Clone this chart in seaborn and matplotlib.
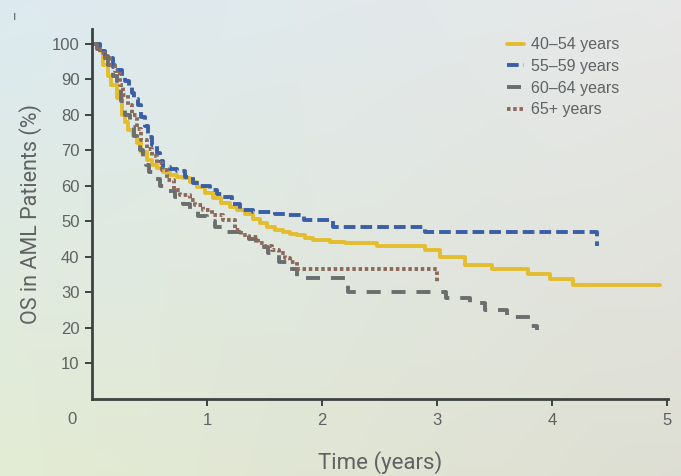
import numpy as np
import pandas as pd
import matplotlib
matplotlib.use("Agg")
import matplotlib.pyplot as plt
import seaborn as sns

# Kaplan-Meier style step curves (years, OS %)
t_40_54 = [0, 0.07, 0.10, 0.14, 0.17, 0.22, 0.26, 0.29, 0.31, 0.36, 0.39, 0.43,
           0.48, 0.52, 0.57, 0.62, 0.68, 0.74, 0.79, 0.85, 0.91, 0.98, 1.05, 1.12,
           1.20, 1.26, 1.33, 1.40, 1.46, 1.52, 1.59, 1.66, 1.72, 1.78, 1.85, 1.92,
           2.07, 2.20, 2.48, 2.90, 3.03, 3.24, 3.48, 3.79, 3.98, 4.18, 4.94]
s_40_54 = [100, 98, 94, 91, 88.5, 84.8, 80, 78, 75.8, 74, 72, 69.5,
           67.3, 66, 65, 64, 63, 62.6, 62.3, 61, 59.7, 58, 56.6, 55.3,
           54, 53.2, 52.2, 50.8, 49.6, 48.5, 47.7, 47, 46.5, 46.2, 45.4, 44.8,
           44.3, 44, 43, 42, 40, 37.7, 36.6, 35.2, 33.8, 32, 32]

t_55_59 = [0, 0.07, 0.11, 0.18, 0.23, 0.26, 0.29, 0.32, 0.35, 0.37, 0.40, 0.43,
           0.46, 0.49, 0.52, 0.57, 0.59, 0.62, 0.68, 0.74, 0.81, 0.88, 0.94, 1.03,
           1.09, 1.14, 1.22, 1.29, 1.40, 1.49, 1.59, 1.70, 1.84, 1.96, 2.10, 2.90, 4.39]
s_55_59 = [100, 98, 96, 93.5, 92.7, 91, 89.6, 88, 86.2, 84.5, 82.8, 79.5,
           77, 73.8, 71.5, 69.3, 67, 65.4, 64.8, 64.2, 62.5, 60.8, 60, 58.9,
           57.8, 57, 55, 53.2, 52.7, 52.7, 52.2, 51.8, 50.4, 50.4, 48.5, 47, 43]

t_60_64 = [0, 0.04, 0.10, 0.14, 0.18, 0.22, 0.25, 0.29, 0.33, 0.37, 0.39, 0.42,
           0.44, 0.47, 0.50, 0.55, 0.59, 0.65, 0.72, 0.79, 0.85, 0.92, 1.00, 1.07,
           1.16, 1.29, 1.37, 1.43, 1.53, 1.63, 1.72, 1.78, 2.23, 3.08, 3.29, 3.42,
           3.61, 3.81, 3.87]
s_60_64 = [100, 98.5, 96.5, 94, 91, 88, 84, 80, 76.6, 74, 72, 70,
           68, 66, 64, 62, 60, 58.5, 57, 55, 53, 51.5, 50.2, 48.5,
           47, 46, 45, 42.8, 41, 38.6, 36.5, 34, 30, 28.5, 27, 25,
           23, 20.5, 19.5]

t_65 = [0, 0.03, 0.07, 0.11, 0.16, 0.20, 0.24, 0.27, 0.31, 0.35, 0.39, 0.43,
        0.48, 0.52, 0.57, 0.61, 0.65, 0.71, 0.77, 0.85, 0.90, 0.97, 1.04, 1.14,
        1.24, 1.30, 1.37, 1.44, 1.50, 1.57, 1.63, 1.68, 1.72, 1.78, 3.00]
s_65 = [100, 99, 97.5, 96, 94, 92.4, 88.5, 85.6, 82.8, 80, 76, 73,
        70.5, 68.5, 66.5, 64.5, 61.7, 58.9, 57.5, 56, 54.5, 53.2, 51.8, 50.4,
        47.6, 46.2, 45.6, 44, 43, 42, 41, 39.7, 38.5, 36.6, 33]

groups = ["40–54 years", "55–59 years", "60–64 years", "65+ years"]
y_ticks = [10, 20, 30, 40, 50, 60, 70, 80, 90, 100]
x_ticks = [1, 2, 3, 4, 5]

sns.set_style("ticks")
plt.rcParams["font.family"] = ["Liberation Sans", "DejaVu Sans"]
text_col = "#5f6262"
axis_col = "#3d4242"

fig = plt.figure(figsize=(6.81, 4.76), dpi=100)

# photo-like gradient background
bg = fig.add_axes([0, 0, 1, 1], zorder=-5)
tl = np.array([0.865, 0.918, 0.942])
tr = np.array([0.905, 0.910, 0.905])
bl = np.array([0.890, 0.925, 0.830])
br = np.array([0.870, 0.872, 0.830])
u = np.linspace(0, 1, 200)[None, :, None]
v = np.linspace(0, 1, 140)[:, None, None]
grad = (1 - u) * (1 - v) * tl + u * (1 - v) * tr + (1 - u) * v * bl + u * v * br
bg.imshow(grad, aspect="auto", extent=[0, 1, 0, 1])
bg.axis("off")

ax = fig.add_axes([0.135, 0.162, 0.846, 0.777])
ax.set_facecolor("none")

series = [
    (t_40_54, s_40_54, groups[0], "#e4bd2e", "-"),
    (t_55_59, s_55_59, groups[1], "#3b5fa6", (0, (3.0, 1.3))),
    (t_60_64, s_60_64, groups[2], "#6a6e6e", (0, (3.6, 2.8))),
    (t_65, s_65, groups[3], "#8b6a5c", (0, (0.9, 0.7))),
]
for t, s, name, col, ls in series:
    df = pd.DataFrame({"time": t, "os": s})
    sns.lineplot(data=df, x="time", y="os", ax=ax, estimator=None,
                 drawstyle="steps-post", color=col, linestyle=ls,
                 linewidth=2.8, label=name)

ax.set_xlim(0, 5.01)
ax.set_ylim(0, 104.2)
ax.set_xticks(x_ticks)
ax.set_yticks(y_ticks)
ax.tick_params(axis="both", direction="out", length=5, width=1.4,
               color=axis_col, labelcolor=text_col, labelsize=12, pad=4)
ax.tick_params(axis="x", pad=5)
for sp in ["top", "right"]:
    ax.spines[sp].set_visible(False)
for sp in ["left", "bottom"]:
    ax.spines[sp].set_color(axis_col)
    ax.spines[sp].set_linewidth(2)

ax.text(-0.174, -5.9, "0", color=text_col, fontsize=12, ha="center", va="center",
        clip_on=False)
ax.set_xlabel("Time (years)", color=text_col, fontsize=16,
              family=["Roboto", "DejaVu Sans"], labelpad=17)
ax.set_ylabel("OS in AML Patients (%)", color=text_col, fontsize=15.5,
              family=["Roboto", "DejaVu Sans"], labelpad=7)

leg = ax.legend(loc="upper left", bbox_to_anchor=(0.709, 0.995), frameon=False,
                fontsize=11.5, handlelength=1.1, handletextpad=0.4,
                labelspacing=0.42, borderaxespad=0)
for txt in leg.get_texts():
    txt.set_color(text_col)

fig.text(0.022, 0.965, "ı", color=text_col, fontsize=9, ha="center", va="center")

fig.savefig("out.png", dpi=100)
